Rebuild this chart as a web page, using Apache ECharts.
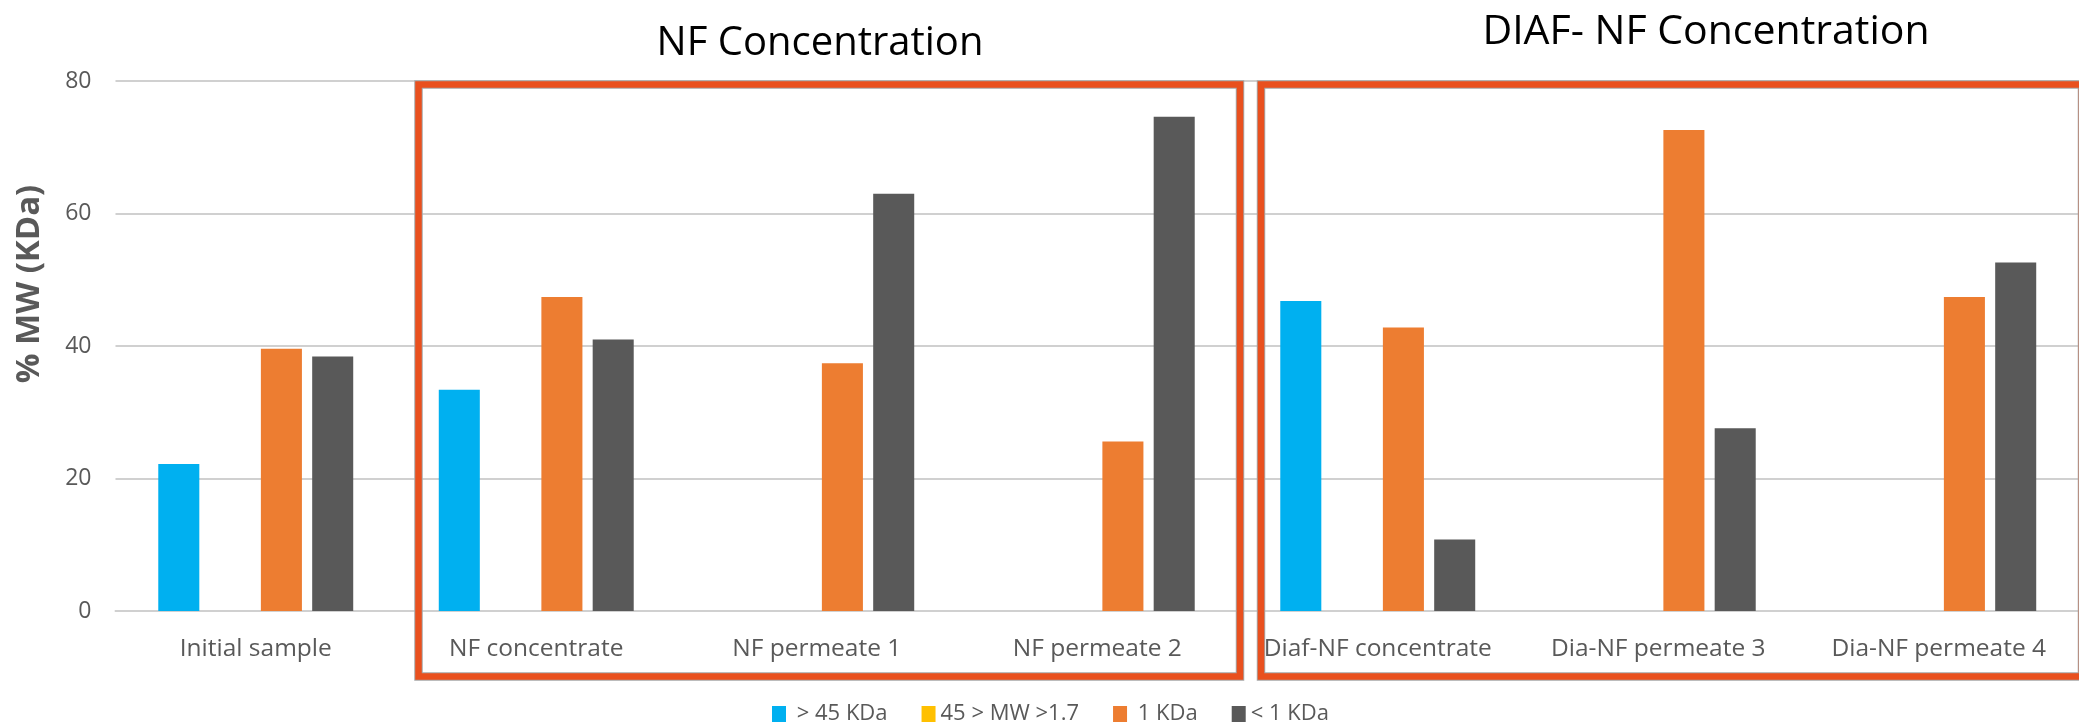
<!DOCTYPE html>
<html>
<head>
<meta charset="utf-8">
<title>% MW (KDa)</title>
<script src="https://cdn.jsdelivr.net/npm/echarts@6/dist/echarts.min.js"></script>
<style>
  html, body { margin: 0; padding: 0; background: #ffffff; }
  #chart { width: 2079px; height: 722px; overflow: hidden; }
</style>
</head>
<body>
<div id="chart"></div>
<script>
// Samples along the process
const categories = [
  'Initial sample',
  'NF concentrate',
  'NF permeate 1',
  'NF permeate 2',
  'Diaf-NF concentrate',
  'Dia-NF permeate 3',
  'Dia-NF permeate 4'
];

// Molecular-weight fractions (%)
const above45 = [22.2, 33.4, 0, 0, 46.8, 0, 0];
const between45and17 = [0, 0, 0, 0, 0, 0, 0];
const oneKDa = [39.6, 47.4, 37.4, 25.6, 42.8, 72.6, 47.4];
const below1 = [38.4, 41.0, 63.0, 74.6, 10.8, 27.6, 52.6];

const seriesNames = [' > 45 KDa', '45 > MW >1.7', ' 1 KDa', '< 1 KDa'];
const seriesColors = ['#00B0F0', '#FFC000', '#ED7D31', '#595959'];
const seriesData = [above45, between45and17, oneKDa, below1];

const FONT = "'Open Sans', 'Noto Sans', sans-serif";
const GRAY = '#595959';
const BOX = '#E9501E';

// Framed stage groups with a faint grey rim
function frame(x, y, w, h) {
  return [
    { type: 'rect', z: 100, shape: { x: x, y: y, width: w, height: h },
      style: { fill: 'none', stroke: '#a6a6a6', lineWidth: 8.5 } },
    { type: 'rect', z: 101, shape: { x: x, y: y, width: w, height: h },
      style: { fill: 'none', stroke: BOX, lineWidth: 6.5 } }
  ];
}

function label(text, x, y, font, fill, extra) {
  return Object.assign({
    type: 'text', z: 110, x: x, y: y,
    style: {
      text: text,
      font: font,
      fill: fill,
      align: 'center', verticalAlign: 'middle',
      textAlign: 'center', textVerticalAlign: 'middle'
    }
  }, extra || {});
}

const chart = echarts.init(document.getElementById('chart'), null, { renderer: 'canvas' });

chart.setOption({
  backgroundColor: '#ffffff',
  animation: false,
  textStyle: { fontFamily: FONT },
  // the plot area runs a little past the right edge of the page
  grid: { left: 115.5, right: -15.5, top: 81, bottom: 111, containLabel: false },
  legend: {
    left: 767, top: 698,
    itemWidth: 14, itemHeight: 16, itemGap: 34,
    icon: 'rect',
    textStyle: { color: GRAY, fontSize: 22, fontFamily: FONT },
    data: seriesNames
  },
  xAxis: {
    type: 'category',
    data: categories,
    axisTick: { show: false },
    axisLine: { lineStyle: { color: '#d0d0d0', width: 2 } },
    axisLabel: { color: GRAY, fontSize: 24.5, margin: 26, fontFamily: FONT, interval: 0 }
  },
  yAxis: {
    type: 'value',
    min: 0, max: 80, interval: 20,
    axisLine: { show: false },
    axisTick: { show: false },
    splitLine: { lineStyle: { color: '#d0d0d0', width: 2 } },
    axisLabel: { color: GRAY, fontSize: 23, margin: 24, fontFamily: FONT }
  },
  series: seriesNames.map((name, i) => ({
    name: name,
    type: 'bar',
    data: seriesData[i],
    itemStyle: { color: seriesColors[i] },
    barGap: '25%',
    barCategoryGap: '30.5%'
  })),
  graphic: [
    ...frame(418.5, 84.5, 821.5, 592),
    ...frame(1261, 84.5, 821, 592),
    label('NF Concentration', 820, 44, '40px ' + FONT, '#000000'),
    label('DIAF- NF Concentration', 1706, 32, '41px ' + FONT, '#000000'),
    label('% MW (KDa)', 30, 284, 'bold 33px ' + FONT, GRAY, { rotation: Math.PI / 2 })
  ]
});
</script>
</body>
</html>
